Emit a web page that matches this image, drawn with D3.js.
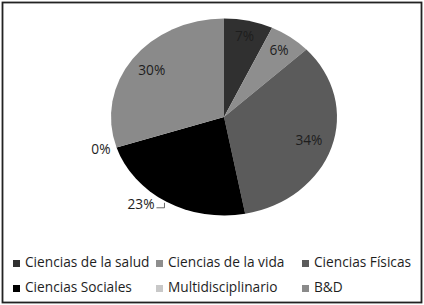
<!DOCTYPE html>
<html>
<head>
<meta charset="utf-8">
<script src="https://cdn.jsdelivr.net/npm/d3@7"></script>
<style>
  body { margin: 0; background: #fff; }
  svg { display: block; font-family: "Open Sans", sans-serif; }
</style>
</head>
<body>
<div id="chart"></div>
<script>
// categorías y porcentajes
const categories = ['Ciencias de la salud', 'Ciencias de la vida', 'Ciencias Físicas',
  'Ciencias Sociales', 'Multidisciplinario', 'B&D'];
const values = [7, 6, 34, 23, 0, 30];
const colors = ['#303030', '#8e8e8e', '#5b5b5b', '#000000', '#c8c8c8', '#8a8a8a'];

const width = 424, height = 305;
const cx = 224, cy = 117;
const rx = 113, ry = 98.5;
const fontSize = 13.7;

const svg = d3.select('#chart').append('svg')
  .attr('width', width)
  .attr('height', height);

// marco
svg.append('rect')
  .attr('x', 2.5).attr('y', 2.5)
  .attr('width', width - 5).attr('height', height - 5)
  .attr('fill', '#fff')
  .attr('stroke', '#222')
  .attr('stroke-width', 1.8);

const data = categories.map((c, i) => ({ name: c, value: values[i], color: colors[i] }));

const pie = d3.pie().sort(null).value(d => d.value);
const arcs = pie(data);
const arc = d3.arc().innerRadius(0).outerRadius(rx);

// el pastel es una elipse: escalar y
const pg = svg.append('g')
  .attr('transform', `translate(${cx},${cy}) scale(1,${ry / rx})`);

pg.selectAll('path')
  .data(arcs)
  .join('path')
  .attr('d', arc)
  .attr('fill', d => d.data.color);

// posicion en la elipse
const pt = (a, k) => [cx + Math.sin(a) * rx * k, cy - Math.cos(a) * ry * k];

const lg = svg.append('g')
  .attr('font-size', fontSize)
  .attr('fill', '#1e1e1e');

arcs.forEach(d => {
  const mid = (d.startAngle + d.endAngle) / 2;
  const label = d3.format('.0%')(d.data.value / 100);
  if (d.data.value === 0) {
    const p = pt(mid, 1);
    lg.append('text')
      .attr('x', p[0] - 6).attr('y', p[1] + 3)
      .attr('text-anchor', 'end')
      .attr('dominant-baseline', 'middle')
      .text(label);
  } else if (d.data.name === 'Ciencias Sociales') {
    const p = pt(mid, 1);
    svg.append('path')
      .attr('d', `M${p[0] - 2},${p[1] + 1}L${p[0] - 2},${p[1] + 6}L${p[0] - 10},${p[1] + 6}`)
      .attr('fill', 'none')
      .attr('stroke', '#444')
      .attr('stroke-width', 0.8);
    lg.append('text')
      .attr('x', p[0] - 12).attr('y', p[1] + 4)
      .attr('text-anchor', 'end')
      .attr('dominant-baseline', 'middle')
      .text(label);
  } else {
    const p = pt(mid, d.data.value < 10 ? 0.83 : 0.79);
    lg.append('text')
      .attr('x', p[0]).attr('y', p[1])
      .attr('text-anchor', 'middle')
      .attr('dominant-baseline', 'middle')
      .text(label);
  }
});

// leyenda
const colX = [13, 156, 302];
const rowY = [263.5, 288.5];
const legend = svg.append('g').attr('font-size', fontSize).attr('fill', '#1e1e1e');
data.forEach((d, i) => {
  const x = colX[i % 3], y = rowY[Math.floor(i / 3)];
  const g = legend.append('g').attr('transform', `translate(${x},${y})`);
  g.append('rect')
    .attr('x', 0).attr('y', -3.5)
    .attr('width', 7).attr('height', 7)
    .attr('fill', d.color);
  g.append('text')
    .attr('x', 12).attr('y', 0)
    .attr('dominant-baseline', 'middle')
    .text(d.name);
});
</script>
</body>
</html>
